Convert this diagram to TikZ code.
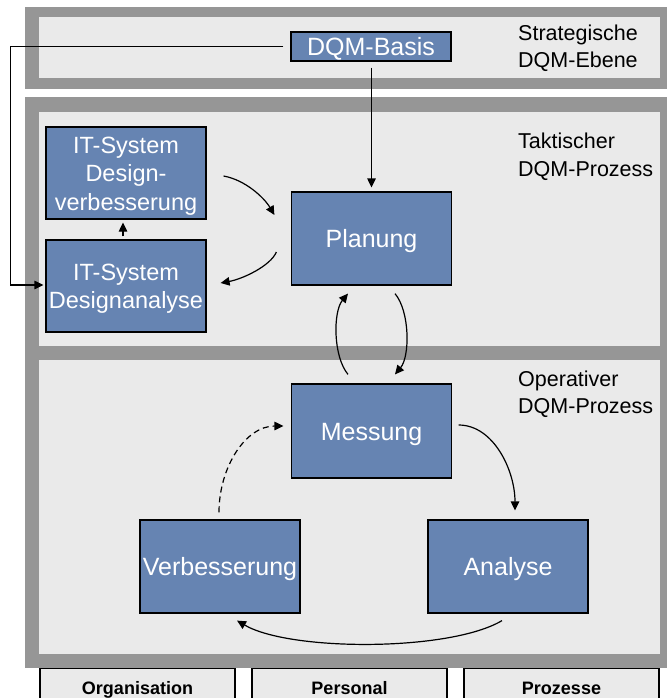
\documentclass[tikz,border=0pt]{standalone}
\usepackage{fontspec}
\setmainfont{Liberation Sans}
\usetikzlibrary{arrows.meta,calc}

\definecolor{framegray}{RGB}{150,150,150}
\definecolor{panelgray}{RGB}{234,234,234}
\definecolor{boxblue}{RGB}{102,132,178}

\begin{document}
\begin{tikzpicture}[x=1pt,y=-1pt,
  boxbase/.style={draw=black, line width=1.2pt, fill=boxblue, text=white,
    inner sep=0pt, minimum width=160pt, minimum height=93pt},
  proc/.style={boxbase, font=\fontsize{25}{28}\selectfont,
    text height=18pt, text depth=0pt},
  % multi-line boxes: the height covers every line above the last baseline
  itbox/.style={boxbase, font=\fontsize{23.5}{28.5}\selectfont, align=center,
    text depth=0pt, minimum height=92pt},
  layerlbl/.style={font=\fontsize{21.5}{27}\selectfont, anchor=base west, inner sep=0pt},
  pillar/.style={draw=black, line width=1.2pt, fill=panelgray, inner sep=0pt,
    minimum width=195pt, minimum height=40pt,
    font=\fontsize{18}{20}\selectfont\bfseries, text height=13pt, text depth=0pt},
  conn/.style={line width=1.2pt, -{Triangle[length=9pt,width=8.5pt]}},
  dashconn/.style={conn, dash pattern=on 6pt off 4pt}
]
\useasboundingbox (0,0) rectangle (667,698);
\clip (0,0) rectangle (667,698);
\fill[white] (0,0) rectangle (667,698);

% pillars below the frame
\node[pillar] (org)  at (137.5,688) {Organisation};
\node[pillar] (pers) at (349.5,688) {Personal};
\node[pillar] (proz) at (561.5,688) {Prozesse};

% strategic layer
\fill[framegray] (25,7) rectangle (667,89);
\fill[panelgray] (39,17) rectangle (660,78);

% tactical and operative layers
\fill[framegray] (25,97) rectangle (667,668);
\fill[panelgray] (39,112) rectangle (660,346);
\fill[panelgray] (39,360) rectangle (660,654);

% layer captions
\node[layerlbl] (s1) at (518,41) {Strategische};
\node[layerlbl] (s2) at (518,68) {DQM-Ebene};
\node[layerlbl] (t1) at (518,148) {Taktischer};
\node[layerlbl] (t2) at (518,176) {DQM-Prozess};
\node[layerlbl] (o1) at (518,386) {Operativer};
\node[layerlbl] (o2) at (518,413) {DQM-Prozess};

% process boxes
\node[proc, minimum height=29pt] (basis) at (371,46.5) {DQM-Basis};
\node[itbox, text height=74pt] (itv) at (126,173) {IT-System\\Design-\\verbesserung};
\node[itbox, text height=45.5pt] (ita) at (126,286) {IT-System\\Designanalyse};
\node[proc] (plan) at (371.5,238.5) {Planung};
\node[proc, minimum height=94pt] (mess) at (371.5,431) {Messung};
\node[proc] (verb) at (220,566.5) {Verbesserung};
\node[proc] (anal) at (508,566.5) {Analyse};

% connectors
\draw[conn] ($(basis.south)+(0.5,6)$) -- ($(plan.north)+(0,-4)$);
\draw[conn] ($(basis.west)+(-7,0)$) -- ++(-273,0) |- ($(ita.west)+(-2,-1)$);
\draw[conn] ($(ita.north)+(-3,-3)$) -- ($(itv.south)+(-3,3)$);
\draw[conn] ($(itv.east)+(17,3)$) .. controls +(22,4) and +(-10,-17) .. ($(plan.west)+(-16.5,-23.5)$);
\draw[conn] ($(plan.west)+(-14.5,13.5)$) .. controls +(-6,14) and +(22,-4) .. ($(ita.east)+(14,-3)$);
\draw[conn] ($(mess.north)+(-23.5,-9)$) .. controls +(-15,-18) and +(-15,18) .. ($(plan.south)+(-23.5,8)$);
\draw[conn] ($(plan.south)+(23.5,8)$) .. controls +(15,18) and +(15,-18) .. ($(mess.north)+(23.5,-9)$);
\draw[conn] ($(mess.east)+(6.5,-6)$) .. controls +(35,0) and +(0,-40) .. ($(anal.north)+(7,-9)$);
\draw[conn] ($(anal.south)+(-6,7)$) .. controls +(-52,31) and +(53,31) .. ($(verb.south)+(17,7)$);
\draw[dashconn] ($(verb.north)+(-1,-7)$) .. controls +(0,-45) and +(-38,0) .. ($(mess.west)+(-7.5,-5)$);
\end{tikzpicture}
\end{document}
